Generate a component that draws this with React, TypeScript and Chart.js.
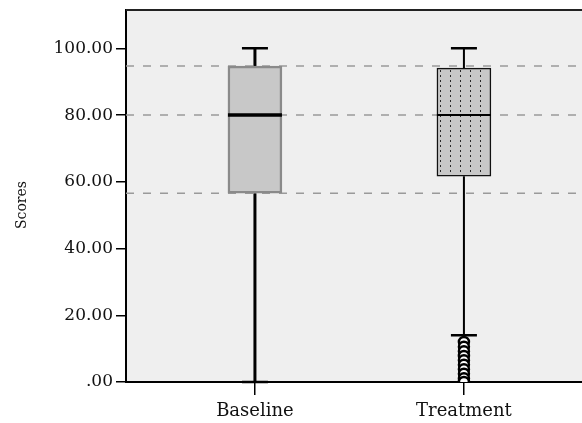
import React, { useEffect, useRef } from "react";
import { Chart, registerables } from "chart.js";

Chart.register(...registerables);

// Score distributions per group
const categories = ["Baseline", "Treatment"];
const whiskerLow = [0, 14];
const q1 = [56.6, 61.7];
const median = [80, 80];
const q3 = [94.7, 94.1];
const whiskerHigh = [100, 100];
const treatmentOutliers = [12.0, 10.6, 9.2, 7.8, 6.5, 5.2, 3.8, 2.5, 1.1, 0];

// Horizontal guides at the baseline quartiles
const guideValues = [q3[0], median[0], q1[0]];

const yAxisTitle = "Scores";

const Y_MIN = 0;
const Y_MAX = 111.5;
const Y_STEP = 20;
const X_MIN = 0.383;
const X_MAX = 2.565;

const WIDTH = 582;
const HEIGHT = 423;

const FONT = "'DejaVu Serif', serif";

function makeDotPattern(): CanvasPattern | string {
  const c = document.createElement("canvas");
  c.width = 10;
  c.height = 5;
  const g = c.getContext("2d");
  if (!g) return "#c8c8c8";
  g.fillStyle = "#c8c8c8";
  g.fillRect(0, 0, 10, 5);
  g.fillStyle = "#2a2a2a";
  g.fillRect(0, 0, 1, 2);
  const p = g.createPattern(c, "repeat");
  return p || "#c8c8c8";
}

const plotFrame = {
  id: "plotFrame",
  beforeDraw(chart: any) {
    const { ctx, chartArea: a } = chart;
    ctx.save();
    ctx.fillStyle = "#efefef";
    ctx.fillRect(a.left, a.top, a.right - a.left, a.bottom - a.top);
    ctx.restore();
  },
  beforeDatasetsDraw(chart: any) {
    const { ctx, chartArea: a, scales } = chart;
    ctx.save();
    // dashed guides
    ctx.strokeStyle = "#9a9a9a";
    ctx.lineWidth = 1.5;
    ctx.setLineDash([8, 9]);
    guideValues.forEach((v) => {
      const y = scales.y.getPixelForValue(v);
      ctx.beginPath();
      ctx.moveTo(a.left, y);
      ctx.lineTo(a.right, y);
      ctx.stroke();
    });
    ctx.setLineDash([]);
    // whiskers and caps
    const capHalf = 13;
    const widths = [3, 2];
    categories.forEach((_, i) => {
      const x = scales.x.getPixelForValue(i + 1);
      const yLo = scales.y.getPixelForValue(whiskerLow[i]);
      const yQ1 = scales.y.getPixelForValue(q1[i]);
      const yQ3 = scales.y.getPixelForValue(q3[i]);
      const yHi = scales.y.getPixelForValue(whiskerHigh[i]);
      ctx.strokeStyle = "#000";
      ctx.lineWidth = widths[i];
      ctx.beginPath();
      ctx.moveTo(x, yQ3);
      ctx.lineTo(x, yHi);
      ctx.moveTo(x, yQ1);
      ctx.lineTo(x, yLo);
      ctx.stroke();
      ctx.lineWidth = 2.5;
      ctx.beginPath();
      ctx.moveTo(x - capHalf, yHi);
      ctx.lineTo(x + capHalf, yHi);
      ctx.moveTo(x - capHalf, yLo);
      ctx.lineTo(x + capHalf, yLo);
      ctx.stroke();
    });
    ctx.restore();
  },
  afterDatasetsDraw(chart: any) {
    const { ctx, chartArea: a, scales } = chart;
    const meta = chart.getDatasetMeta(0);
    ctx.save();
    const medWidths = [3.5, 2];
    categories.forEach((_, i) => {
      const bar = meta.data[i];
      if (!bar) return;
      const half = bar.width / 2;
      const x = scales.x.getPixelForValue(i + 1);
      const y = scales.y.getPixelForValue(median[i]);
      ctx.strokeStyle = "#000";
      ctx.lineWidth = medWidths[i];
      ctx.beginPath();
      ctx.moveTo(x - half, y);
      ctx.lineTo(x + half, y);
      ctx.stroke();
    });
    // top frame line
    ctx.strokeStyle = "#222";
    ctx.lineWidth = 2;
    ctx.beginPath();
    ctx.moveTo(a.left, a.top);
    ctx.lineTo(a.right, a.top);
    ctx.stroke();
    ctx.restore();
  },
  afterDraw(chart: any) {
    // vertical axis title, set a little below the plot's middle
    const { ctx, chartArea: a } = chart;
    ctx.save();
    ctx.translate(22, (a.top + a.bottom) / 2 + 9);
    ctx.rotate(-Math.PI / 2);
    ctx.fillStyle = "#111";
    ctx.font = `14px ${FONT}`;
    ctx.textAlign = "center";
    ctx.textBaseline = "middle";
    ctx.fillText(yAxisTitle, 0, 0);
    ctx.restore();
  },
};

export default function App() {
  const ref = useRef<HTMLCanvasElement | null>(null);

  useEffect(() => {
    const canvas = ref.current;
    if (!canvas) return;
    const pattern = makeDotPattern();
    const chart = new Chart(canvas, {
      type: "bar",
      data: {
        datasets: [
          {
            type: "bar",
            data: categories.map((_, i) => ({ x: i + 1, y: [q1[i], q3[i]] })) as any,
            backgroundColor: ["#c8c8c8", pattern] as any,
            borderColor: ["#8a8a8a", "#111"],
            borderWidth: [2.5, 1.5] as any,
            borderSkipped: false,
            barThickness: 54,
            grouped: false,
          } as any,
          {
            type: "scatter",
            data: treatmentOutliers.map((v) => ({ x: 2, y: v })),
            pointStyle: "circle",
            pointRadius: 5,
            borderWidth: 2.5,
            borderColor: "#000",
            backgroundColor: "#fff",
          } as any,
        ],
      },
      options: {
        animation: false,
        responsive: false,
        maintainAspectRatio: false,
        devicePixelRatio: 1,
        layout: { autoPadding: false, padding: { top: 10, left: 0, right: 0, bottom: 0 } },
        plugins: {
          legend: { display: false },
          tooltip: { enabled: false },
        },
        scales: {
          x: {
            type: "linear",
            min: X_MIN,
            max: X_MAX,
            offset: false,
            afterBuildTicks: (scale: any) => {
              scale.ticks = categories.map((_, i) => ({ value: i + 1 }));
            },
            afterFit: (scale: any) => {
              scale.height = 41;
              scale.paddingLeft = 0;
              scale.paddingRight = 0;
            },
            grid: {
              display: true,
              offset: false,
              drawOnChartArea: false,
              drawTicks: true,
              tickLength: 13,
              color: "#000",
              lineWidth: 1.5,
            },
            border: { display: true, color: "#000", width: 2 },
            ticks: {
              autoSkip: false,
              maxRotation: 0,
              padding: 6,
              color: "#111",
              font: { family: FONT, size: 18 },
              callback: (v: any) => categories[Number(v) - 1] ?? "",
            },
          } as any,
          y: {
            type: "linear",
            min: Y_MIN,
            max: Y_MAX,
            afterFit: (scale: any) => {
              scale.width = 126;
              scale.paddingTop = 0;
              scale.paddingBottom = 0;
            },
            grid: {
              display: true,
              drawOnChartArea: false,
              drawTicks: true,
              tickLength: 10,
              color: "#000",
              lineWidth: 1.5,
            },
            border: { display: true, color: "#000", width: 2 },
            ticks: {
              stepSize: Y_STEP,
              includeBounds: false,
              padding: 3,
              color: "#111",
              font: { family: FONT, size: 17 },
              callback: (v: any) => {
                const s = Number(v).toFixed(2);
                return s.startsWith("0.") ? s.slice(1) : s;
              },
            },
          } as any,
        },
      },
      plugins: [plotFrame],
    });
    return () => chart.destroy();
  }, []);

  return (
    <div style={{ position: "fixed", left: 0, top: 0, width: WIDTH, height: HEIGHT, background: "#fff" }}>
      <canvas ref={ref} width={WIDTH} height={HEIGHT} style={{ display: "block" }} />
    </div>
  );
}
